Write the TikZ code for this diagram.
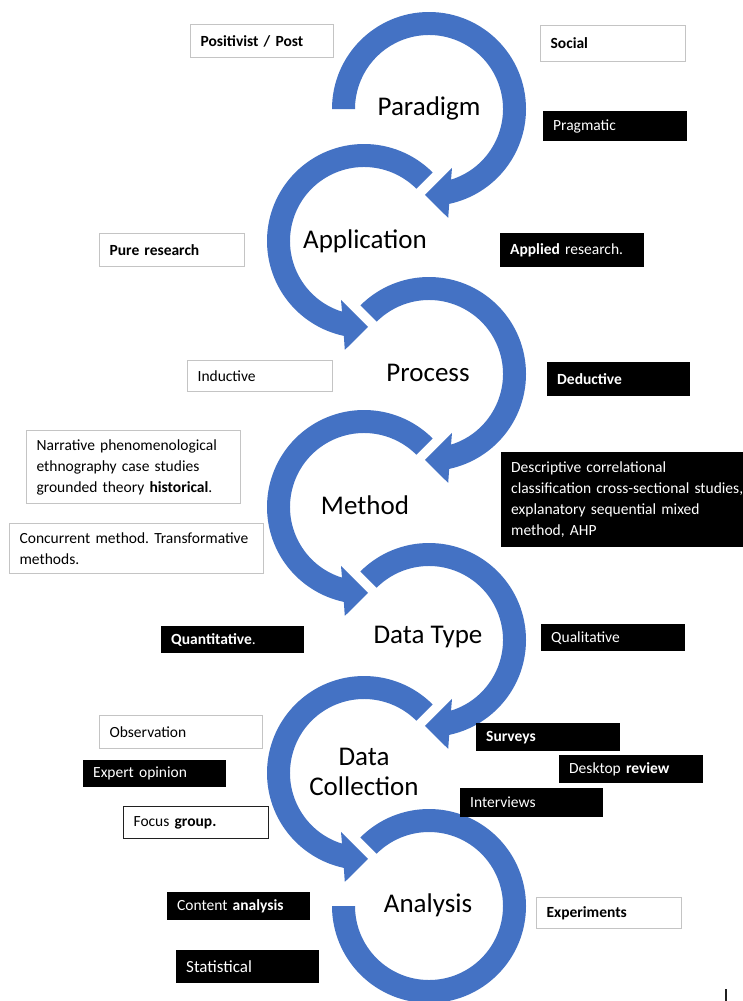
\documentclass[tikz,border=0pt]{standalone}
\usepackage{fontspec}
\setmainfont{Carlito}
\frenchspacing
\hyphenpenalty=10000
\exhyphenpenalty=10000
\definecolor{ringblue}{HTML}{4472C4}
\definecolor{boxgray}{HTML}{C4C4C4}
\definecolor{darkline}{HTML}{202020}

% ring arrow turning clockwise, head pointing left at the bottom
\newcommand\cwring[2]{%
  \fill[ringblue,shift={#1}] (#2:97) arc[start angle=#2,end angle=-78,radius=97]
    -- (-80:110.6) -- (-92.7:86) -- (-68.7:63.3) -- (-72.7:74)
    arc[start angle=-72.7,end angle=#2,radius=74] -- cycle;}
% ring arrow turning counter-clockwise, head pointing right at the bottom
\newcommand\ccwring[2]{%
  \fill[ringblue,shift={#1}] (#2:97) arc[start angle=#2,end angle=258,radius=97]
    -- (260:110.6) -- (272.7:86) -- (248.7:63.3) -- (252.7:74)
    arc[start angle=252.7,end angle=#2,radius=74] -- cycle;}

\tikzset{
  lab/.style={font=\fontsize{27}{30}\selectfont, text=black, align=center, inner sep=0pt},
  txtbox/.style={anchor=north west, align=left, inner xsep=10pt, inner ysep=0pt,
    font=\fontsize{15.5}{21}\selectfont},
  wbox/.style={txtbox, draw=boxgray, line width=1.2pt, fill=white, text=black},
  dbox/.style={txtbox, draw=darkline, line width=1.2pt, fill=white, text=black},
  bbox/.style={txtbox, fill=black, text=white},
}

\begin{document}
\begin{tikzpicture}[x=1pt,y=1pt]
\useasboundingbox (0,0) rectangle (742,-1001);
\fill[white] (0,0) rectangle (742,-1001);

% the chain of ring arrows
\cwring{(429,-109)}{180}
\ccwring{(364,-241)}{45}
\cwring{(429,-374)}{135}
\ccwring{(364,-507)}{45}
\cwring{(429,-640)}{135}
\ccwring{(364,-773)}{45}
\fill[ringblue,shift={(429,-906)}] (135:97) arc[start angle=135,end angle=-180,radius=97]
  -- (-180:74) arc[start angle=-180,end angle=135,radius=74] -- cycle;

% stage names
\node[lab] (paradigm) at (429,-108) {Paradigm};
\node[lab] (application) at (365,-241) {Application};
\node[lab] (process) at (428,-373) {Process};
\node[lab] (method) at (365,-505) {Method};
\node[lab] (datatype) at (428,-637) {Data Type};
\node[lab] (datacoll) at (364,-772) {Data\\Collection};
\node[lab] (analysis) at (428,-905) {Analysis};

% options around each stage
\node[wbox, text width=123pt, minimum height=33pt] (positivist) at (190,-24) {\textbf{Positivist / Post}};
\node[wbox, text width=125pt, minimum height=36pt] (social) at (540,-25) {\textbf{Social}};
\node[bbox, text width=124pt, minimum height=30pt] (pragmatic) at (543,-111) {Pragmatic};

\node[wbox, text width=125pt, minimum height=33pt] (pure) at (99,-233) {\textbf{Pure research}};
\node[bbox, text width=124pt, minimum height=34pt] (applied) at (500,-233) {\textbf{Applied} research.};

\node[wbox, text width=125pt, minimum height=31pt] (inductive) at (187,-360) {Inductive};
\node[bbox, text width=123pt, minimum height=34pt] (deductive) at (547,-362) {\textbf{Deductive}};

\node[wbox, text width=194pt, minimum height=73pt] (narrative) at (26,-430)
  {Narrative phenomenological\\ethnography case studies\\grounded theory \textbf{historical}.};
\node[wbox, text width=234pt, minimum height=50pt] (concurrent) at (9,-523)
  {Concurrent method. Transformative\\methods.};
\node[bbox, text width=250pt, minimum height=95pt] (descriptive) at (501,-452)
  {Descriptive correlational\\classification cross-sectional studies,\\explanatory sequential mixed\\method, AHP};

\node[bbox, text width=123pt, minimum height=27pt] (quantitative) at (161,-626) {\textbf{Quantitative}.};
\node[bbox, text width=124pt, minimum height=27pt] (qualitative) at (541,-624) {Qualitative};

\node[wbox, text width=143pt, minimum height=33pt] (observation) at (99,-715) {Observation};
\node[bbox, text width=123pt, minimum height=27pt] (expert) at (83,-760) {Expert opinion};
\node[bbox, text width=124pt, minimum height=28pt] (surveys) at (476,-723) {\textbf{Surveys}};
\node[bbox, text width=124pt, minimum height=28pt] (desktop) at (559,-755) {Desktop \textbf{review}};
\node[dbox, text width=125pt, minimum height=32pt] (focus) at (123,-806) {Focus \textbf{group.}};
\node[bbox, text width=123pt, minimum height=29pt] (interviews) at (460,-788) {Interviews};

\node[bbox, text width=123pt, minimum height=28pt] (content) at (167,-892) {Content \textbf{analysis}};
\node[wbox, text width=125pt, minimum height=31pt] (experiments) at (536,-897) {\textbf{Experiments}};
\node[bbox, text width=123pt, minimum height=33pt, font=\fontsize{17}{21}\selectfont] (statistical) at (176,-950) {Statistical};

% text cursor mark at the page foot
\coordinate (cursortop) at (726,-989);
\coordinate (cursorbot) at (726,-1001);
\draw[darkline, line width=1.4pt] (cursortop) -- (cursorbot);
\end{tikzpicture}
\end{document}
